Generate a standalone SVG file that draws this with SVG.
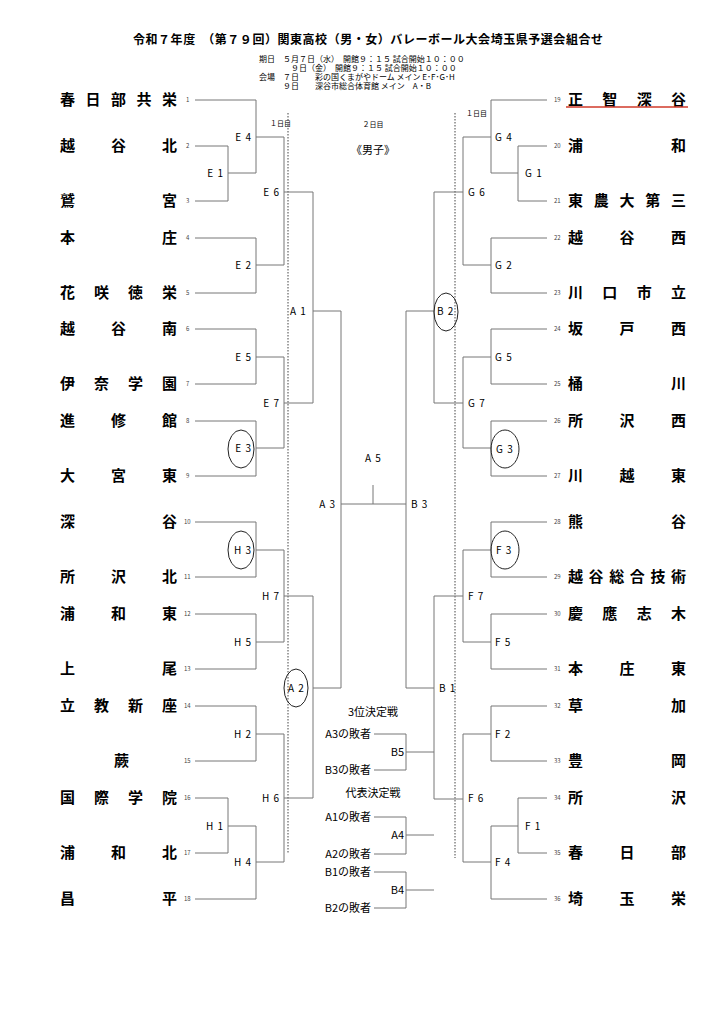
<svg xmlns="http://www.w3.org/2000/svg" width="724" height="1024" viewBox="0 0 724 1024">
<style>
text{font-family:"Noto Sans CJK JP","Liberation Sans",sans-serif;fill:#000}
.t{font-size:15px;font-weight:bold}
.n{font-size:6px;fill:#444}
.l{font-size:10px;letter-spacing:1px}
.e{text-anchor:end}
.s{font-size:8px}
.m{font-size:11px;text-anchor:middle}
#c path{fill:none;stroke:#777;stroke-width:1}
.d{fill:none;stroke:#444;stroke-width:1;stroke-dasharray:1.5,1.5}
ellipse{fill:none;stroke:#222;stroke-width:1}
</style>
<rect width="724" height="1024" fill="#fff"/>
<g id="header">
<text x="133" y="44" font-size="12" font-weight="bold" textLength="470" lengthAdjust="spacing">令和７年度　（第７９回）関東高校（男・女）バレーボール大会埼玉県予選会組合せ</text>
<text class="s" x="259" y="62">期日　５月７日（水）　開館９：１５ 試合開始１０：００</text>
<text class="s" x="259" y="71">　　　　９日（金）　開館９：１５ 試合開始１０：００</text>
<text class="s" x="259" y="80">会場　７日　　彩の国くまがやドーム メイン  E･F･G･H</text>
<text class="s" x="259" y="89">　　　９日　　深谷市総合体育館 メイン　A・B</text>
<text x="270" y="126" font-size="7">１日目</text>
<text x="466" y="116" font-size="7">１日目</text>
<text x="373" y="127" font-size="7" text-anchor="middle">２日目</text>
<text x="373" y="154" font-size="11" text-anchor="middle">《男子》</text>
</g>
<g id="teams-left">
<text class="t" x="60" y="105" textLength="117" lengthAdjust="spacing">春日部共栄</text>
<text class="t" x="60" y="151" textLength="117" lengthAdjust="spacing">越谷北</text>
<text class="t" x="60" y="206" textLength="117" lengthAdjust="spacing">鷲宮</text>
<text class="t" x="60" y="243" textLength="117" lengthAdjust="spacing">本庄</text>
<text class="t" x="60" y="298" textLength="117" lengthAdjust="spacing">花咲徳栄</text>
<text class="t" x="60" y="334" textLength="117" lengthAdjust="spacing">越谷南</text>
<text class="t" x="60" y="389" textLength="117" lengthAdjust="spacing">伊奈学園</text>
<text class="t" x="60" y="426" textLength="117" lengthAdjust="spacing">進修館</text>
<text class="t" x="60" y="481" textLength="117" lengthAdjust="spacing">大宮東</text>
<text class="t" x="60" y="527" textLength="117" lengthAdjust="spacing">深谷</text>
<text class="t" x="60" y="582" textLength="117" lengthAdjust="spacing">所沢北</text>
<text class="t" x="60" y="619" textLength="117" lengthAdjust="spacing">浦和東</text>
<text class="t" x="60" y="674" textLength="117" lengthAdjust="spacing">上尾</text>
<text class="t" x="60" y="711" textLength="117" lengthAdjust="spacing">立教新座</text>
<text class="t" x="114" y="766">蕨</text>
<text class="t" x="60" y="803" textLength="117" lengthAdjust="spacing">国際学院</text>
<text class="t" x="60" y="858" textLength="117" lengthAdjust="spacing">浦和北</text>
<text class="t" x="60" y="904" textLength="117" lengthAdjust="spacing">昌平</text>
</g>
<g id="teams-right">
<text class="t" x="568" y="105" textLength="118" lengthAdjust="spacing">正智深谷</text>
<line x1="566" y1="107" x2="688" y2="107" stroke="#d03a2a" stroke-width="1.5"/>
<text class="t" x="568" y="151" textLength="118" lengthAdjust="spacing">浦和</text>
<text class="t" x="568" y="206" textLength="118" lengthAdjust="spacing">東農大第三</text>
<text class="t" x="568" y="243" textLength="118" lengthAdjust="spacing">越谷西</text>
<text class="t" x="568" y="298" textLength="118" lengthAdjust="spacing">川口市立</text>
<text class="t" x="568" y="334" textLength="118" lengthAdjust="spacing">坂戸西</text>
<text class="t" x="568" y="389" textLength="118" lengthAdjust="spacing">桶川</text>
<text class="t" x="568" y="426" textLength="118" lengthAdjust="spacing">所沢西</text>
<text class="t" x="568" y="481" textLength="118" lengthAdjust="spacing">川越東</text>
<text class="t" x="568" y="527" textLength="118" lengthAdjust="spacing">熊谷</text>
<text class="t" x="568" y="582" textLength="118" lengthAdjust="spacing">越谷総合技術</text>
<text class="t" x="568" y="619" textLength="118" lengthAdjust="spacing">慶應志木</text>
<text class="t" x="568" y="674" textLength="118" lengthAdjust="spacing">本庄東</text>
<text class="t" x="568" y="711" textLength="118" lengthAdjust="spacing">草加</text>
<text class="t" x="568" y="766" textLength="118" lengthAdjust="spacing">豊岡</text>
<text class="t" x="568" y="803" textLength="118" lengthAdjust="spacing">所沢</text>
<text class="t" x="568" y="858" textLength="118" lengthAdjust="spacing">春日部</text>
<text class="t" x="568" y="904" textLength="118" lengthAdjust="spacing">埼玉栄</text>
</g>
<g id="numbers">
<text class="n" x="186" y="102">1</text><text class="n" x="186" y="148">2</text><text class="n" x="186" y="203">3</text>
<text class="n" x="186" y="240">4</text><text class="n" x="186" y="295">5</text><text class="n" x="186" y="331">6</text>
<text class="n" x="186" y="386">7</text><text class="n" x="186" y="423">8</text><text class="n" x="186" y="478">9</text>
<text class="n" x="184" y="524">10</text><text class="n" x="184" y="579">11</text><text class="n" x="184" y="616">12</text>
<text class="n" x="184" y="671">13</text><text class="n" x="184" y="708">14</text><text class="n" x="184" y="763">15</text>
<text class="n" x="184" y="800">16</text><text class="n" x="184" y="855">17</text><text class="n" x="184" y="901">18</text>
<text class="n" x="554" y="102">19</text><text class="n" x="554" y="148">20</text><text class="n" x="554" y="203">21</text>
<text class="n" x="554" y="240">22</text><text class="n" x="554" y="295">23</text><text class="n" x="554" y="331">24</text>
<text class="n" x="554" y="386">25</text><text class="n" x="554" y="423">26</text><text class="n" x="554" y="478">27</text>
<text class="n" x="554" y="524">28</text><text class="n" x="554" y="579">29</text><text class="n" x="554" y="616">30</text>
<text class="n" x="554" y="671">31</text><text class="n" x="554" y="708">32</text><text class="n" x="554" y="763">33</text>
<text class="n" x="554" y="800">34</text><text class="n" x="554" y="855">35</text><text class="n" x="554" y="901">36</text>
</g>
<line class="d" x1="288" y1="113" x2="288" y2="853"/>
<line class="d" x1="455" y1="113" x2="455" y2="858"/>
<g id="c">
<path d="M195 100H256V173M195 146H228V201H195M228 173H256"/>
<path d="M256 137H284V265H256M195 238H256V293H195"/>
<path d="M284 192H313V403H284"/>
<path d="M195 329H256V384H195M256 357H284V448H256M195 421H256V476H195"/>
<path d="M313 311H341V688H313"/>
<path d="M195 522H256V577H195M256 550H284V642H256M195 614H256V669H195"/>
<path d="M284 596H313V798H284"/>
<path d="M195 706H256V761H195M256 734H284V862H256"/>
<path d="M195 798H228V853H195M228 826H256V899H195"/>
<path d="M341 504H406M373 504V485"/>
<path d="M547 100H491V173M547 146H518V201H547M518 173H491"/>
<path d="M491 137H463V265H491M547 238H491V293H547"/>
<path d="M463 192H434V403H463"/>
<path d="M547 329H491V384H547M491 357H463V448H491M547 421H491V476H547"/>
<path d="M434 311H406V688H434"/>
<path d="M547 522H491V577H547M491 550H463V642H491M547 614H491V669H547"/>
<path d="M463 596H434V799H463"/>
<path d="M547 706H491V761H547M491 734H463V862H491"/>
<path d="M547 798H518V853H547M518 826H491V899H547"/>
<path d="M374 734H406V770H374M406 752H434"/>
<path d="M374 817H406V854H374M406 835H434"/>
<path d="M374 872H406V908H374M406 890H434"/>
</g>
<g id="ellipses">
<ellipse cx="241" cy="449" rx="13" ry="19"/>
<ellipse cx="241" cy="550" rx="13" ry="19"/>
<ellipse cx="296" cy="688" rx="12" ry="19"/>
<ellipse cx="446" cy="312" rx="12" ry="19"/>
<ellipse cx="505" cy="449" rx="14" ry="19"/>
<ellipse cx="505" cy="550" rx="14" ry="19"/>
</g>
<g id="labels">
<text class="l e" x="252" y="141">E 4</text>
<text class="l e" x="224" y="177">E 1</text>
<text class="l e" x="280" y="196">E 6</text>
<text class="l e" x="252" y="269">E 2</text>
<text class="l e" x="252" y="361">E 5</text>
<text class="l e" x="280" y="407">E 7</text>
<text class="l e" x="252" y="452">E 3</text>
<text class="l e" x="252" y="554">H 3</text>
<text class="l e" x="280" y="600">H 7</text>
<text class="l e" x="252" y="646">H 5</text>
<text class="l e" x="252" y="738">H 2</text>
<text class="l e" x="280" y="802">H 6</text>
<text class="l e" x="224" y="830">H 1</text>
<text class="l e" x="252" y="866">H 4</text>
<text class="l" x="290" y="315">A 1</text>
<text class="l" x="288" y="692">A 2</text>
<text class="l e" x="336" y="508">A 3</text>
<text class="l" x="365" y="462">A 5</text>
<text class="l" x="411" y="508">B 3</text>
<text class="l" x="437" y="315">B 2</text>
<text class="l" x="439" y="692">B 1</text>
<text class="l" x="495" y="141">G 4</text>
<text class="l" x="525" y="177">G 1</text>
<text class="l" x="468" y="196">G 6</text>
<text class="l" x="495" y="269">G 2</text>
<text class="l" x="495" y="361">G 5</text>
<text class="l" x="468" y="407">G 7</text>
<text class="l" x="496" y="453">G 3</text>
<text class="l" x="496" y="554">F 3</text>
<text class="l" x="468" y="600">F 7</text>
<text class="l" x="495" y="646">F 5</text>
<text class="l" x="495" y="738">F 2</text>
<text class="l" x="468" y="802">F 6</text>
<text class="l" x="525" y="830">F 1</text>
<text class="l" x="495" y="866">F 4</text>
<text class="m" x="373" y="716">3位決定戦</text>
<text class="m" x="373" y="797">代表決定戦</text>
<text font-size="11" class="e" x="371" y="738">A3の敗者</text>
<text font-size="11" class="e" x="371" y="774">B3の敗者</text>
<text font-size="11" class="e" x="371" y="821">A1の敗者</text>
<text font-size="11" class="e" x="371" y="858">A2の敗者</text>
<text font-size="11" class="e" x="371" y="876">B1の敗者</text>
<text font-size="11" class="e" x="371" y="912">B2の敗者</text>
<text font-size="11" class="e" x="404" y="756">B5</text>
<text font-size="11" class="e" x="404" y="839">A4</text>
<text font-size="11" class="e" x="404" y="894">B4</text>
</g>
</svg>
